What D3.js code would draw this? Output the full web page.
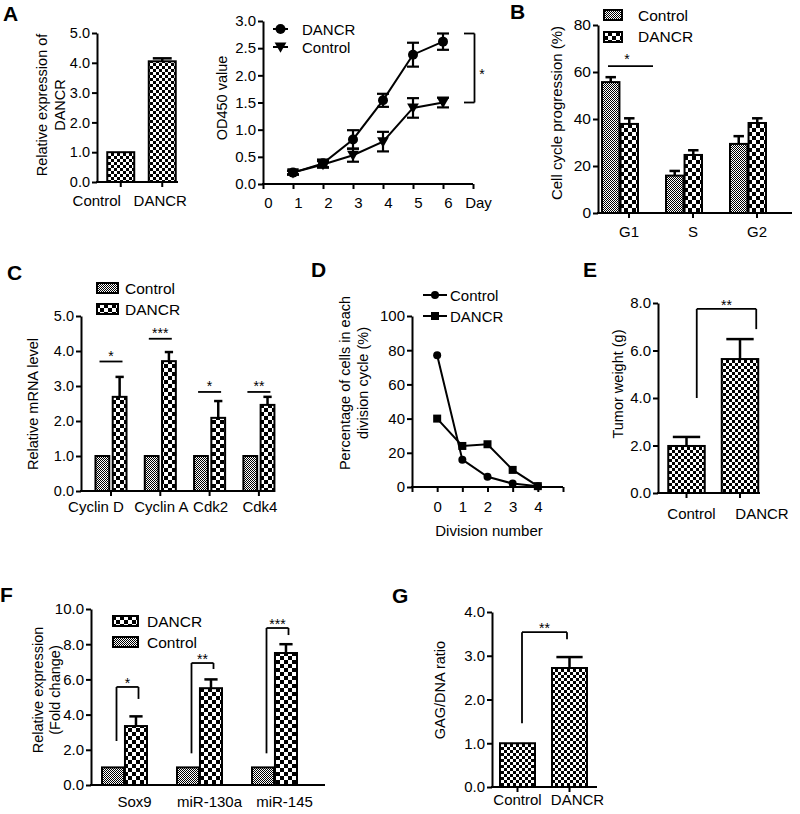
<!DOCTYPE html>
<html><head><meta charset="utf-8">
<script src="https://cdn.jsdelivr.net/npm/d3@7"></script>
<style>body{margin:0;background:#fff} text{font-family:Arial,"Liberation Sans",sans-serif;fill:#000}</style>
</head><body>
<script>
// ---------- DATA ----------
// Panel A (bar)
const aCats = ["Control", "DANCR"];
const aVals = [1.0, 4.05];
const aErr = [0, 0.1];
const aTicks = [0, 1, 2, 3, 4, 5];
// Panel A (OD450 growth curve)
const odDays = [1, 2, 3, 4, 5, 6];
const odDANCR = [0.21, 0.38, 0.82, 1.54, 2.38, 2.62];
const odDANCRErr = [0.04, 0.07, 0.17, 0.12, 0.22, 0.15];
const odControl = [0.21, 0.36, 0.53, 0.78, 1.40, 1.50];
const odControlErr = [0.03, 0.06, 0.12, 0.18, 0.18, 0.09];
const odYTicks = [0, 0.5, 1, 1.5, 2, 2.5, 3];
const odXTicks = [0, 1, 2, 3, 4, 5, 6, 7];
// Panel B
const bPhases = ["G1", "S", "G2"];
const bControl = [55.7, 15.9, 29.4];
const bControlErr = [2.1, 2.0, 3.3];
const bDANCR = [37.9, 24.7, 38.3];
const bDANCRErr = [2.4, 2.0, 2.0];
const bTicks = [0, 20, 40, 60, 80];
// Panel C
const cGenes = ["Cyclin D", "Cyclin A", "Cdk2", "Cdk4"];
const cControl = [1, 1, 1, 1];
const cDANCR = [2.69, 3.71, 2.09, 2.46];
const cDANCRErr = [0.57, 0.26, 0.48, 0.23];
const cSig = ["*", "***", "*", "**"];
const cSigLevel = [3.7, 4.35, 2.83, 2.83];
const cTicks = [0, 1, 2, 3, 4, 5];
// Panel D
const dDivisions = [0, 1, 2, 3, 4];
const dControl = [77, 16, 6, 2, 0.5];
const dDANCR = [40, 24, 25, 10, 0.5];
const dYTicks = [0, 20, 40, 60, 80, 100];
const dXTicks = [-1, 0, 1, 2, 3, 4, 5];
// Panel E
const eGroups = ["Control", "DANCR"];
const eVals = [1.98, 5.64];
const eErr = [0.38, 0.84];
const eBracket = [4.0, 7.75, 6.9]; // left foot, top, right foot
const eTicks = [0, 2, 4, 6, 8];
// Panel F
const fGenes = ["Sox9", "miR-130a", "miR-145"];
const fControl = [1, 1, 1];
const fDANCR = [3.35, 5.5, 7.5];
const fDANCRErr = [0.55, 0.5, 0.5];
const fSig = ["*", "**", "***"];
const fBracketLeft = [2.5, 1.8, 1.8];
const fBracketTop = [5.57, 6.93, 8.92];
const fBracketRight = [4.89, 6.59, 8.52];
const fTicks = [0, 2, 4, 6, 8, 10];
// Panel G
const gGroups = ["Control", "DANCR"];
const gVals = [1.0, 2.72];
const gErr = [0, 0.25];
const gBracket = [1.46, 3.54, 3.38];
const gTicks = [0, 1, 2, 3, 4];

// ---------- SETUP ----------
const FONT = 'Arial, "Liberation Sans", sans-serif';
const svg = d3.select("body").append("svg").attr("width", 800).attr("height", 814);
svg.append("rect").attr("width", 800).attr("height", 814).attr("fill", "#fff");
const defs = svg.append("defs");
function checker(id, s) {
  const p = defs.append("pattern").attr("id", id).attr("patternUnits", "userSpaceOnUse")
    .attr("width", 2 * s).attr("height", 2 * s);
  p.append("rect").attr("width", 2 * s).attr("height", 2 * s).attr("fill", "#fff");
  p.append("rect").attr("width", s).attr("height", s).attr("fill", "#000");
  p.append("rect").attr("x", s).attr("y", s).attr("width", s).attr("height", s).attr("fill", "#000");
}
checker("fine", 1); checker("med", 3); checker("coarse", 4);

function txt(x, y, s, fs, anchor, bold) {
  return svg.append("text").attr("x", x).attr("y", y).attr("font-size", fs)
    .attr("text-anchor", anchor || "start").attr("font-weight", bold ? "bold" : null).text(s);
}
function panelLabel(x, y, s) { txt(x, y, s, 21, "start", true); }
function yTitle(lines, xs, cy, fs) {
  lines.forEach((l, i) => {
    svg.append("text").attr("transform", `translate(${xs[i]},${cy}) rotate(-90)`)
      .attr("text-anchor", "middle").attr("dy", "0.35em").attr("font-size", fs).text(l);
  });
}
function yAxis(y, x, ticks, fmt, fs) {
  const g = svg.append("g").attr("transform", `translate(${x},0)`)
    .call(d3.axisLeft(y).tickValues(ticks).tickFormat(d3.format(fmt)).tickSize(5).tickSizeOuter(0).tickPadding(2));
  g.attr("font-family", null).attr("font-size", null);
  g.select(".domain").attr("stroke", "#000").attr("stroke-width", 2);
  g.selectAll(".tick line").attr("stroke", "#000").attr("stroke-width", 2);
  g.selectAll(".tick text").attr("font-size", fs || 14.5).attr("font-family", FONT).attr("fill", "#000");
  return g;
}
function xAxis(scale, y, x0, x1, o) {
  const ax = d3.axisBottom(scale).tickSize(o.tick === undefined ? 5 : o.tick).tickSizeOuter(0).tickPadding(o.pad);
  if (o.values) ax.tickValues(o.values);
  if (o.format) ax.tickFormat(o.format);
  const g = svg.append("g").attr("transform", `translate(${o.shift || 0},${y})`).call(ax);
  g.attr("font-family", null).attr("font-size", null);
  g.select(".domain").remove();
  g.selectAll(".tick line").attr("stroke", "#000").attr("stroke-width", 2);
  g.selectAll(".tick text").attr("font-size", o.fs || 15).attr("font-family", FONT).attr("fill", "#000")
    .attr("dx", (d, i) => o.dx === undefined ? 0 : (Array.isArray(o.dx) ? o.dx[i] : o.dx));
  svg.append("line").attr("x1", x0 - 1).attr("x2", x1).attr("y1", y).attr("y2", y)
    .attr("stroke", "#000").attr("stroke-width", 2);
  return g;
}
function barRects(g, items, y, fill) {
  g.selectAll(null).data(items).join("rect")
    .attr("x", d => d.x).attr("width", d => d.w)
    .attr("y", d => y(d.v)).attr("height", d => y(0) - y(d.v))
    .attr("fill", fill).attr("stroke", "#000").attr("stroke-width", 2);
}
function errUp(g, items, y, capFrac) {
  const it = items.filter(d => d.e > 0);
  g.selectAll(null).data(it).join("line")
    .attr("x1", d => d.x + d.w / 2).attr("x2", d => d.x + d.w / 2)
    .attr("y1", d => y(d.v)).attr("y2", d => y(d.v + d.e)).attr("stroke", "#000").attr("stroke-width", 2.5);
  g.selectAll(null).data(it).join("line")
    .attr("x1", d => d.x + d.w / 2 - d.w * capFrac / 2).attr("x2", d => d.x + d.w / 2 + d.w * capFrac / 2)
    .attr("y1", d => y(d.v + d.e)).attr("y2", d => y(d.v + d.e)).attr("stroke", "#000").attr("stroke-width", 2.5);
}
function pline(x1, y1, x2, y2, w) {
  svg.append("line").attr("x1", x1).attr("y1", y1).attr("x2", x2).attr("y2", y2)
    .attr("stroke", "#000").attr("stroke-width", w || 1.8);
}
function star(x, yLine, s, gap) {
  // glyph centre of the asterisks sits "gap" px above the line
  txt(x, yLine - gap + 8, s, 14, "middle");
}

// ---------- PANEL A (bar) ----------
{
  const y = d3.scaleLinear().domain([0, 5]).range([182, 33]);
  const x = d3.scaleBand().domain(aCats).range([100, 183]).paddingInner(0.35).paddingOuter(0.175);
  const g = svg.append("g");
  const items = aCats.map((c, i) => ({ x: x(c), w: x.bandwidth(), v: aVals[i], e: aErr[i] }));
  barRects(g, items, y, "url(#med)");
  errUp(g, items, y, 0.7);
  yAxis(y, 97, aTicks, ".1f", 14.5);
  xAxis(x, 182, 97, 178, { pad: 8.4, dx: [-24, -2], fs: 15 });
  panelLabel(3, 21, "A");
  yTitle(["Relative expression of", "DANCR"], [42, 60], 105, 14.5);
}

// ---------- PANEL A (OD450) ----------
{
  const y = d3.scaleLinear().domain([0, 3]).range([184, 21]);
  const x = d3.scaleLinear().domain([0, 7]).range([263, 473]);
  const g = svg.append("g");
  const series = [
    { v: odDANCR, e: odDANCRErr, sym: "circle" },
    { v: odControl, e: odControlErr, sym: "tri" }
  ];
  const ln = d3.line().x((d, i) => x(odDays[i])).y(d => y(d));
  series.forEach(s => {
    g.append("path").attr("d", ln(s.v)).attr("fill", "none").attr("stroke", "#000").attr("stroke-width", 2);
    const pts = odDays.map((d, i) => ({ d, v: s.v[i], e: s.e[i] }));
    g.selectAll(null).data(pts).join("line")
      .attr("x1", p => x(p.d)).attr("x2", p => x(p.d))
      .attr("y1", p => y(p.v - p.e)).attr("y2", p => y(p.v + p.e)).attr("stroke", "#000").attr("stroke-width", 2.2);
    [-1, 1].forEach(sg => {
      g.selectAll(null).data(pts).join("line")
        .attr("x1", p => x(p.d) - 6).attr("x2", p => x(p.d) + 6)
        .attr("y1", p => y(p.v + sg * p.e)).attr("y2", p => y(p.v + sg * p.e)).attr("stroke", "#000").attr("stroke-width", 2.2);
    });
  });
  series.forEach(s => {
    const pts = odDays.map((d, i) => ({ d, v: s.v[i] }));
    if (s.sym === "circle") {
      g.selectAll(null).data(pts).join("circle").attr("cx", p => x(p.d)).attr("cy", p => y(p.v)).attr("r", 5).attr("fill", "#000");
    } else {
      g.selectAll(null).data(pts).join("path")
        .attr("d", d3.symbol(d3.symbolTriangle, 60)())
        .attr("transform", p => `translate(${x(p.d)},${y(p.v) - 1}) rotate(180)`).attr("fill", "#000");
    }
  });
  yAxis(y, 263, odYTicks, ".1f", 15);
  xAxis(x, 184, 263, 473, { pad: 8.4, values: odXTicks, format: d => d === 7 ? "Day" : d, dx: 5, fs: 15 });
  // legend
  pline(273, 29, 288, 29, 2); svg.append("circle").attr("cx", 280.5).attr("cy", 29).attr("r", 5).attr("fill", "#000");
  txt(302, 35, "DANCR", 15);
  pline(273, 47, 288, 47, 2);
  svg.append("path").attr("d", d3.symbol(d3.symbolTriangle, 60)()).attr("transform", "translate(280.5,46) rotate(180)").attr("fill", "#000");
  txt(302, 52.5, "Control", 15);
  // bracket
  const yt = y(odDANCR[5] + odDANCRErr[5]), yb = y(odControl[5]);
  pline(x(6.7), yt, x(7.05), yt); pline(x(7.05), yt, x(7.05), yb); pline(x(6.7), yb, x(7.05), yb);
  txt(482, 79, "*", 14, "middle");
  yTitle(["OD450 value"], [222], 98, 14.5);
}

// ---------- PANEL B ----------
{
  const y = d3.scaleLinear().domain([0, 80]).range([213, 25]);
  const x = d3.scaleBand().domain(bPhases).range([588, 780]).paddingInner(0.4375).paddingOuter(0.21875);
  const sub = d3.scaleBand().domain(["Control", "DANCR"]).range([0, x.bandwidth()]).paddingInner(0.06);
  const g = svg.append("g");
  const ci = bPhases.map((p, i) => ({ x: x(p) + sub("Control"), w: sub.bandwidth(), v: bControl[i], e: bControlErr[i] }));
  const di = bPhases.map((p, i) => ({ x: x(p) + sub("DANCR"), w: sub.bandwidth(), v: bDANCR[i], e: bDANCRErr[i] }));
  barRects(g, ci, y, "url(#fine)"); barRects(g, di, y, "url(#coarse)");
  errUp(g, ci, y, 0.6); errUp(g, di, y, 0.6);
  yAxis(y, 598, bTicks, "d", 15.5);
  xAxis(x, 213, 598, 792, { pad: 8.4, shift: 9, fs: 15 });
  // legend
  svg.append("rect").attr("x", 604).attr("y", 10).attr("width", 18).attr("height", 10).attr("fill", "url(#fine)").attr("stroke", "#000").attr("stroke-width", 2);
  txt(638, 20.5, "Control", 15.5);
  svg.append("rect").attr("x", 604).attr("y", 32).attr("width", 18).attr("height", 10).attr("fill", "url(#coarse)").attr("stroke", "#000").attr("stroke-width", 2);
  txt(638, 41.5, "DANCR", 15.5);
  const ly = y(62.5);
  pline(x("G1") + 6, ly, x("G1") + 51, ly);
  star(x("G1") + 25, ly, "*", 10);
  panelLabel(510, 19, "B");
  yTitle(["Cell cycle progression (%)"], [557], 113, 15);
}

// ---------- PANEL C ----------
{
  const y = d3.scaleLinear().domain([0, 5]).range([491, 316]);
  const x = d3.scaleBand().domain(cGenes).range([86.35, 283.55]).paddingInner(0.37).paddingOuter(0.185);
  const sub = d3.scaleBand().domain(["Control", "DANCR"]).range([0, x.bandwidth()]).paddingInner(0.2);
  const g = svg.append("g");
  const ci = cGenes.map((p, i) => ({ x: x(p) + sub("Control"), w: sub.bandwidth(), v: cControl[i], e: 0 }));
  const di = cGenes.map((p, i) => ({ x: x(p) + sub("DANCR"), w: sub.bandwidth(), v: cDANCR[i], e: cDANCRErr[i] }));
  barRects(g, ci, y, "url(#fine)"); barRects(g, di, y, "url(#coarse)");
  errUp(g, di, y, 0.6);
  yAxis(y, 81, cTicks, ".1f", 14.5);
  xAxis(x, 491, 81, 270, { pad: 5.4, dx: [-15, 1, 1, 1], fs: 15 });
  cGenes.forEach((gname, i) => {
    const cx = x(gname) + x.bandwidth() / 2, ly = y(cSigLevel[i]);
    pline(cx - 11.5, ly, cx + 11.5, ly);
    star(cx, ly, cSig[i], 9);
  });
  svg.append("rect").attr("x", 97).attr("y", 283).attr("width", 21).attr("height", 10).attr("fill", "url(#fine)").attr("stroke", "#000").attr("stroke-width", 2);
  txt(125, 293.5, "Control", 15.5);
  svg.append("rect").attr("x", 97).attr("y", 304).attr("width", 21).attr("height", 10).attr("fill", "url(#coarse)").attr("stroke", "#000").attr("stroke-width", 2);
  txt(125, 314.5, "DANCR", 15.5);
  panelLabel(7, 280, "C");
  yTitle(["Relative mRNA level"], [33], 404, 14.5);
}

// ---------- PANEL D ----------
{
  const y = d3.scaleLinear().domain([0, 100]).range([487, 316]);
  const x = d3.scaleLinear().domain([-1, 5]).range([412, 563]);
  const g = svg.append("g");
  const ln = d3.line().x((d, i) => x(dDivisions[i])).y(d => y(d));
  g.append("path").attr("d", ln(dControl)).attr("fill", "none").attr("stroke", "#000").attr("stroke-width", 2);
  g.append("path").attr("d", ln(dDANCR)).attr("fill", "none").attr("stroke", "#000").attr("stroke-width", 2);
  g.selectAll(null).data(dControl).join("circle").attr("cx", (d, i) => x(dDivisions[i])).attr("cy", d => y(d)).attr("r", 4).attr("fill", "#000");
  g.selectAll(null).data(dDANCR).join("rect").attr("x", (d, i) => x(dDivisions[i]) - 4).attr("y", d => y(d) - 4).attr("width", 8).attr("height", 8).attr("fill", "#000");
  yAxis(y, 412, dYTicks, "d", 15);
  xAxis(x, 487, 412, 563, { pad: 9.4, values: dXTicks, format: d => (d >= 0 && d <= 4) ? d : "", fs: 15 });
  pline(423, 295, 447, 295, 2); svg.append("circle").attr("cx", 435).attr("cy", 295).attr("r", 4).attr("fill", "#000");
  txt(450, 300.5, "Control", 15);
  pline(423, 316, 447, 316, 2); svg.append("rect").attr("x", 431).attr("y", 312).attr("width", 8).attr("height", 8).attr("fill", "#000");
  txt(450, 321.5, "DANCR", 15);
  txt(489, 536, "Division number", 15, "middle");
  panelLabel(311, 277, "D");
  yTitle(["Percentage of cells in each", "division cycle (%)"], [345, 363], 383, 14.5);
}

// ---------- PANEL E ----------
{
  const y = d3.scaleLinear().domain([0, 8]).range([493, 303]);
  const x = d3.scaleBand().domain(eGroups).range([659.75, 766.75]).paddingInner(0.318).paddingOuter(0.159);
  const g = svg.append("g");
  const items = eGroups.map((c, i) => ({ x: x(c), w: x.bandwidth(), v: eVals[i], e: eErr[i] }));
  barRects(g, items, y, "url(#med)");
  errUp(g, items, y, 0.75);
  yAxis(y, 658, eTicks, ".1f", 15);
  xAxis(x, 493, 658, 760, { pad: 10.4, dx: [5, 22], fs: 15 });
  const lx = x("Control") + x.bandwidth() - 8, rx = x("DANCR") + x.bandwidth() - 2;
  pline(lx, y(eBracket[0]), lx, y(eBracket[1])); pline(lx, y(eBracket[1]), rx, y(eBracket[1])); pline(rx, y(eBracket[1]), rx, y(eBracket[2]));
  star((lx + rx) / 2, y(eBracket[1]), "**", 7);
  panelLabel(583, 277, "E");
  yTitle(["Tumor weight (g)"], [618], 384, 14.5);
}

// ---------- PANEL F ----------
{
  const y = d3.scaleLinear().domain([0, 10]).range([785, 609]);
  const x = d3.scaleBand().domain(fGenes).range([87, 312]).paddingInner(0.4).paddingOuter(0.2);
  const sub = d3.scaleBand().domain(["Control", "DANCR"]).range([0, x.bandwidth()]).paddingInner(0.04);
  const g = svg.append("g");
  const ci = fGenes.map((p, i) => ({ x: x(p) + sub("Control"), w: sub.bandwidth(), v: fControl[i], e: 0 }));
  const di = fGenes.map((p, i) => ({ x: x(p) + sub("DANCR"), w: sub.bandwidth(), v: fDANCR[i], e: fDANCRErr[i] }));
  barRects(g, ci, y, "url(#fine)"); barRects(g, di, y, "url(#coarse)");
  errUp(g, di, y, 0.6);
  yAxis(y, 91, fTicks, ".1f", 15);
  xAxis(x, 785, 91, 325, { pad: 11.4, tick: 0, dx: 10, fs: 15 });
  fGenes.forEach((gn, i) => {
    const cx = x(gn) + x.bandwidth() / 2, lx = cx - 8, rx = cx + 14;
    pline(lx, y(fBracketLeft[i]), lx, y(fBracketTop[i])); pline(lx, y(fBracketTop[i]), rx, y(fBracketTop[i]));
    pline(rx, y(fBracketTop[i]), rx, y(fBracketRight[i]));
    star((lx + rx) / 2, y(fBracketTop[i]), fSig[i], 7);
  });
  svg.append("rect").attr("x", 113).attr("y", 616).attr("width", 25).attr("height", 10).attr("fill", "url(#coarse)").attr("stroke", "#000").attr("stroke-width", 2);
  txt(147, 626.5, "DANCR", 15.5);
  svg.append("rect").attr("x", 113).attr("y", 637).attr("width", 25).attr("height", 10).attr("fill", "url(#fine)").attr("stroke", "#000").attr("stroke-width", 2);
  txt(147, 647.5, "Control", 15.5);
  panelLabel(0, 602, "F");
  yTitle(["Relative expression", "(Fold change)"], [38, 55], 690, 14.5);
}

// ---------- PANEL G ----------
{
  const y = d3.scaleLinear().domain([0, 4]).range([787, 612]);
  const x = d3.scaleBand().domain(gGroups).range([491.5, 595.5]).paddingInner(0.327).paddingOuter(0.1635);
  const g = svg.append("g");
  const items = gGroups.map((c, i) => ({ x: x(c), w: x.bandwidth(), v: gVals[i], e: gErr[i] }));
  barRects(g, items, y, "url(#med)");
  errUp(g, items, y, 0.75);
  yAxis(y, 492, gTicks, ".1f", 15);
  xAxis(x, 787, 492, 597, { pad: 2.4, dx: [0, 8], fs: 15 });
  const lx = x("Control") + x.bandwidth() / 2 + 4.5, rx = x("DANCR") + x.bandwidth() / 2 - 2.5;
  pline(lx, y(gBracket[0]), lx, y(gBracket[1])); pline(lx, y(gBracket[1]), rx, y(gBracket[1])); pline(rx, y(gBracket[1]), rx, y(gBracket[2]));
  star((lx + rx) / 2, y(gBracket[1]), "**", 7);
  panelLabel(392, 603, "G");
  yTitle(["GAG/DNA ratio"], [440], 690, 14.5);
}
</script>
</body></html>
